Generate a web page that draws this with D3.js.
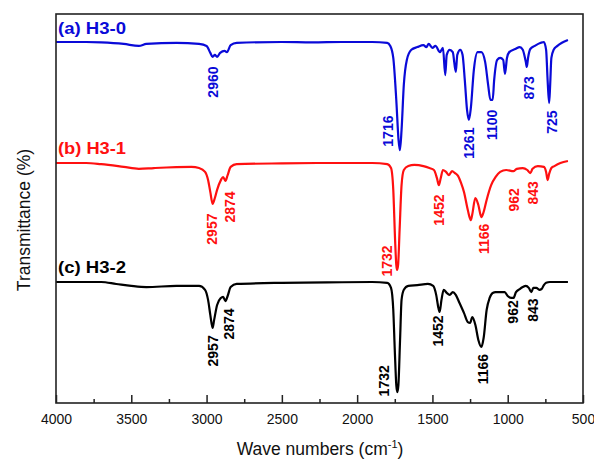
<!DOCTYPE html>
<html>
<head>
<meta charset="utf-8">
<script src="https://cdn.jsdelivr.net/npm/d3@7/dist/d3.min.js"></script>
<style>
  html, body { margin: 0; padding: 0; background: #fff; }
  svg { display: block; }
  text { font-family: Arial, "Liberation Sans", sans-serif; }
</style>
</head>
<body>
<script>
// ---------- DATA (wavenumber cm^-1, transmittance a.u., offset traces) ----------
const xTicks = [4000, 3500, 3000, 2500, 2000, 1500, 1000, 500];
const xMinorTicks = [3750, 3250, 2750, 2250, 1750, 1250, 750];

const seriesNames = ["(a) H3-0", "(b) H3-1", "(c) H3-2"];
const seriesColors = ["#0a0ad8", "#ff1010", "#000000"];
const seriesLabelY = [94.9, 64.0, 33.4];

const waveA = [4000,3800,3700,3550,3450,3400,3200,3050,3000,2975,2960,2945,2930,2910,2880,2865,2840,2800,2500,2300,2100,1900,1800,1780,1760,1740,1725,1716,1705,1690,1670,1640,1600,1560,1540,1525,1500,1480,1450,1430,1415,1405,1385,1365,1345,1335,1315,1300,1285,1270,1258,1245,1225,1200,1175,1150,1130,1115,1100,1090,1070,1050,1030,1018,1005,990,950,920,900,880,873,865,850,820,780,760,745,735,725,718,710,695,670,640,600];
const transA = [92.8,92.8,92.7,92.3,91.8,92.3,92.6,92.3,91.8,90.0,89.0,89.5,89.0,90.0,90.5,90.2,92.0,92.6,92.8,92.7,92.8,92.8,92.6,91.8,88.7,77.9,67.6,65.0,70.2,81.8,88.2,90.8,91.5,92.0,91.5,92.3,91.3,91.8,90.2,91.3,84.3,89.5,90.8,90.2,85.1,89.5,90.8,89.5,83.0,75.3,72.8,75.8,85.6,90.2,90.2,87.7,81.8,77.9,77.9,83.0,88.2,88.7,88.2,84.6,88.7,90.2,91.0,91.5,90.8,87.7,86.4,88.7,91.0,91.8,92.6,92.8,90.8,83.0,77.1,81.8,88.7,90.8,91.8,92.6,93.3];

const waveB = [4000,3800,3700,3550,3450,3350,3100,3050,3010,2990,2975,2960,2945,2930,2905,2890,2875,2860,2840,2800,2500,2200,1900,1800,1775,1760,1748,1740,1735,1728,1718,1705,1690,1660,1620,1560,1520,1490,1470,1457,1445,1430,1410,1390,1370,1350,1330,1310,1290,1265,1245,1235,1215,1195,1175,1160,1140,1110,1080,1050,1010,962,940,900,870,850,835,800,760,745,735,725,710,690,650,600];
const transB = [61.7,61.7,61.4,60.7,60.2,60.4,60.7,60.4,59.4,57.3,54.2,51.2,52.7,54.8,57.3,58.1,57.1,58.6,60.7,61.4,61.6,61.7,61.7,61.4,60.4,54.8,41.9,35.5,34.2,35.5,44.5,56.0,59.9,60.9,61.2,60.9,60.4,59.9,57.8,56.0,57.8,59.9,59.4,58.6,59.6,59.1,58.4,56.6,54.2,49.6,47.0,48.6,52.7,50.9,47.8,49.1,52.2,56.0,58.1,59.4,59.9,59.6,60.2,60.4,59.9,59.1,60.2,60.9,60.7,59.4,57.3,58.9,60.4,60.9,61.7,62.2];

const waveC = [4000,3700,3600,3500,3400,3200,3050,3010,2990,2975,2960,2950,2930,2905,2890,2875,2860,2840,2800,2500,2200,1900,1800,1775,1760,1750,1740,1733,1726,1715,1705,1690,1660,1600,1530,1495,1475,1460,1452,1440,1425,1405,1385,1365,1345,1320,1290,1265,1250,1235,1215,1195,1175,1160,1140,1120,1100,1080,1050,1020,1000,975,962,945,920,900,880,860,843,830,810,790,775,760,745,720,600];
const transC = [31.1,31.1,30.6,30.1,29.8,30.1,30.1,29.1,26.5,22.6,19.3,21.3,25.2,27.0,27.3,26.2,27.5,29.8,30.6,30.9,31.0,31.1,30.9,29.6,23.9,13.6,4.6,2.8,4.6,16.2,26.5,29.1,30.1,30.3,30.6,30.1,27.8,24.4,23.4,26.5,29.1,28.3,27.8,28.5,27.8,25.7,23.1,20.8,20.6,22.1,20.1,16.2,14.4,16.7,23.9,27.0,28.3,28.5,28.5,28.5,27.5,27.0,27.0,28.5,29.3,29.8,30.1,29.6,28.5,29.6,29.6,29.1,29.3,30.3,30.9,31.1,31.1];

// peak annotations: label text, wavenumber of label centre, transmittance of label centre
const peakLabelsA = ["2960","1716","1261","1100","873","725"];
const peakWaveA   = [2960, 1796, 1258, 1107, 859, 709];
const peakTransA  = [82.5, 69.9, 66.8, 71.5, 81.0, 72.2];

const peakLabelsB = ["2957","2874","1732","1452","1166","962","843"];
const peakWaveB   = [2964, 2845, 1802, 1457, 1158, 959, 833];
const peakTransB  = [44.7, 50.4, 36.5, 49.6, 42.2, 52.2, 54.0];

const peakLabelsC = ["2957","2874","1732","1452","1166","962","843"];
const peakWaveC   = [2958, 2851, 1822, 1466, 1165, 968, 833];
const peakTransC  = [13.4, 20.3, 5.7, 18.5, 8.7, 23.4, 23.9];

// ---------- CHART ----------
const W = 594, H = 459;
const margin = {left: 56, right: 11, top: 14, bottom: 56};
const svg = d3.select("body").append("svg").attr("width", W).attr("height", H);

const x = d3.scaleLinear().domain([4000, 500]).range([margin.left, W - margin.right]);
const y = d3.scaleLinear().domain([0, 100]).range([H - margin.bottom, margin.top]);

const series = [
  {wave: waveA, trans: transA, labels: peakLabelsA, pw: peakWaveA, pt: peakTransA},
  {wave: waveB, trans: transB, labels: peakLabelsB, pw: peakWaveB, pt: peakTransB},
  {wave: waveC, trans: transC, labels: peakLabelsC, pw: peakWaveC, pt: peakTransC}
];

const line = d3.line()
  .x(d => x(d[0]))
  .y(d => y(d[1]))
  .curve(d3.curveMonotoneX);

series.forEach((s, i) => {
  const pts = s.wave.map((w, k) => [w, s.trans[k]]);
  svg.append("path")
    .attr("d", line(pts))
    .attr("fill", "none")
    .attr("stroke", seriesColors[i])
    .attr("stroke-width", 2.2)
    .attr("stroke-linejoin", "round");

  svg.append("text")
    .attr("x", x(4000) + 2)
    .attr("y", y(seriesLabelY[i]))
    .attr("fill", seriesColors[i])
    .attr("font-size", 16)
    .attr("font-weight", "bold")
    .attr("textLength", 68)
    .attr("lengthAdjust", "spacingAndGlyphs")
    .text(seriesNames[i]);

  s.labels.forEach((lab, k) => {
    const cx = x(s.pw[k]), cy = y(s.pt[k]);
    svg.append("text")
      .attr("transform", `translate(${cx},${cy}) rotate(-90)`)
      .attr("text-anchor", "middle")
      .attr("dy", "0.36em")
      .attr("fill", seriesColors[i])
      .attr("font-size", 14)
      .attr("font-weight", "bold")
      .text(lab);
  });
});

// frame
svg.append("rect")
  .attr("x", margin.left).attr("y", margin.top)
  .attr("width", W - margin.right - margin.left)
  .attr("height", H - margin.bottom - margin.top)
  .attr("fill", "none").attr("stroke", "#222").attr("stroke-width", 1.6);

// x axis (ticks pointing inward)
const axisG = svg.append("g").attr("transform", `translate(0,${H - margin.bottom})`);
axisG.call(d3.axisBottom(x).tickValues(xTicks).tickSize(-8).tickSizeOuter(0).tickPadding(11).tickFormat(d3.format("d")));
axisG.select(".domain").remove();
axisG.selectAll("line").attr("stroke", "#222").attr("stroke-width", 1.5);
axisG.selectAll("text").attr("font-size", 14).attr("fill", "#111")
  .attr("font-family", 'Arial, "Liberation Sans", sans-serif');

const minorG = svg.append("g").attr("transform", `translate(0,${H - margin.bottom})`);
minorG.call(d3.axisBottom(x).tickValues(xMinorTicks).tickSize(-4).tickSizeOuter(0).tickFormat(""));
minorG.select(".domain").remove();
minorG.selectAll("line").attr("stroke", "#222").attr("stroke-width", 1.5);

// axis titles
const xt = svg.append("text")
  .attr("x", 320).attr("y", 455)
  .attr("text-anchor", "middle")
  .attr("font-size", 17.5)
  .attr("fill", "#111");
xt.append("tspan").text("Wave numbers (cm");
xt.append("tspan").attr("font-size", 11).attr("dy", -7).text("-1");
xt.append("tspan").attr("dy", 7).text(")");

svg.append("text")
  .attr("transform", `translate(30,220) rotate(-90)`)
  .attr("text-anchor", "middle")
  .attr("font-size", 17.5)
  .attr("fill", "#111")
  .text("Transmittance (%)");
</script>
</body>
</html>
